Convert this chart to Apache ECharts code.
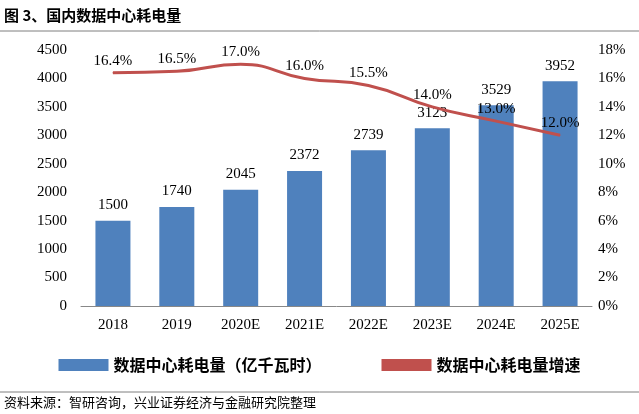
<!DOCTYPE html>
<html>
<head>
<meta charset="utf-8">
<script src="https://cdn.jsdelivr.net/npm/echarts@6/dist/echarts.min.js"></script>
<style>body{margin:0;background:#fff}</style>
</head>
<body>
<div id="main" style="width:639px;height:414px;"></div>
<script>
var categories = ['2018', '2019', '2020E', '2021E', '2022E', '2023E', '2024E', '2025E'];
var power = [1500, 1740, 2045, 2372, 2739, 3123, 3529, 3952];
var growth = [16.4, 16.5, 17.0, 16.0, 15.5, 14.0, 13.0, 12.0];

var serif = '"Liberation Serif", "Times New Roman", "Noto Sans CJK SC", serif';
var chart = echarts.init(document.getElementById('main'));
chart.setOption({
  animation: false,
  textStyle: {fontFamily: serif},
  graphic: [
    {type: 'text', left: 4, top: 8, style: {text: '图 3、国内数据中心耗电量', font: 'bold 15px "Noto Sans CJK SC", sans-serif', fill: '#000'}},
    {type: 'line', shape: {x1: 0, y1: 31, x2: 639, y2: 31}, style: {stroke: '#7f7f7f', lineWidth: 1}},
    {type: 'line', shape: {x1: 0, y1: 392, x2: 639, y2: 392}, style: {stroke: '#7f7f7f', lineWidth: 1}},
    {type: 'text', left: 4, top: 396, style: {text: '资料来源：智研咨询，兴业证券经济与金融研究院整理', font: '13px "Noto Sans CJK SC", sans-serif', fill: '#000'}}
  ],
  legend: {
    top: 352, left: 'center', itemGap: 60, itemWidth: 50, itemHeight: 12,
    textStyle: {fontSize: 16, fontWeight: 'bold', fontFamily: '"Noto Sans CJK SC", sans-serif', color: '#000'},
    data: [{name: '数据中心耗电量（亿千瓦时）', icon: 'rect'}, {name: '数据中心耗电量增速', icon: 'rect'}]
  },
  grid: {left: 81, right: 47, top: 50, bottom: 108},
  xAxis: {
    type: 'category', data: categories,
    axisLine: {lineStyle: {color: '#888'}}, axisTick: {show: false},
    axisLabel: {color: '#000', fontSize: 15, fontFamily: serif, margin: 12}
  },
  yAxis: [
    {type: 'value', min: 0, max: 4500, interval: 500,
      axisLine: {show: false}, axisTick: {show: false}, splitLine: {show: false},
      axisLabel: {color: '#000', fontSize: 15, fontFamily: serif, margin: 14, formatter: function (v) { return String(v); }}},
    {type: 'value', min: 0, max: 18, interval: 2,
      axisLine: {show: false}, axisTick: {show: false}, splitLine: {show: false},
      axisLabel: {color: '#000', fontSize: 15, fontFamily: serif, margin: 6, formatter: '{value}%'}}
  ],
  series: [
    {name: '数据中心耗电量（亿千瓦时）', type: 'bar', data: power, barWidth: 35,
      itemStyle: {color: '#4f81bd'},
      label: {show: true, position: 'top', color: '#000', fontSize: 15, fontFamily: serif, distance: 8}},
    {name: '数据中心耗电量增速', type: 'line', yAxisIndex: 1, data: growth, smooth: true,
      symbol: 'circle', symbolSize: 1, lineStyle: {color: '#c0504d', width: 3}, itemStyle: {color: '#c0504d'},
      label: {show: true, position: 'top', color: '#000', fontSize: 15, fontFamily: serif, distance: 4,
        formatter: function (p) { return p.value.toFixed(1) + '%'; }}}
  ]
});
</script>
</body>
</html>
